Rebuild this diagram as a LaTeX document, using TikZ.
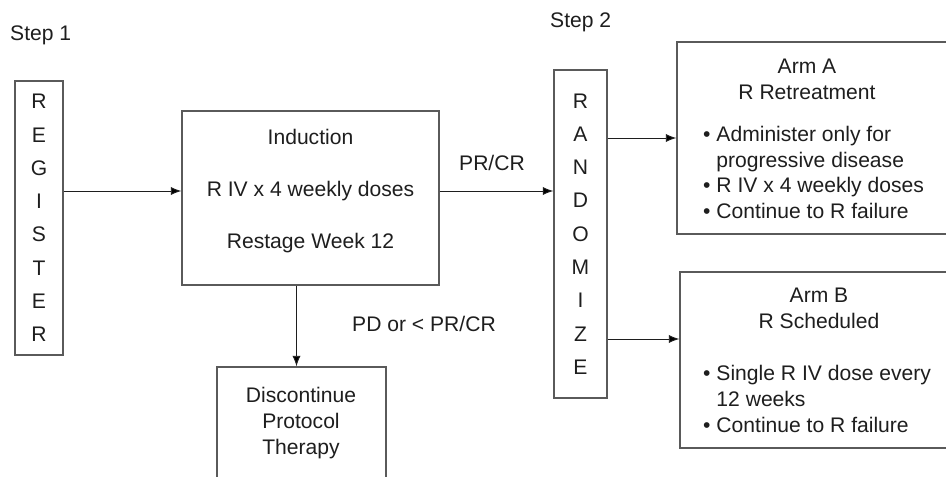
\documentclass[tikz,border=0pt]{standalone}
\usepackage{fontspec}
\setmainfont{Liberation Sans}
\usetikzlibrary{arrows.meta}
\definecolor{boxgray}{HTML}{5A5A5A}
\definecolor{txtgray}{HTML}{1E1E1E}
\tikzset{
  box/.style={draw=boxgray, line width=1.1pt, inner sep=0pt},
  lbl/.style={text=txtgray, align=center, inner sep=0pt, font=\fontsize{18}{22}\selectfont},
  letters/.style={box, text=txtgray, align=center, font=\fontsize{18}{28.4}\selectfont},
  arr/.style={draw=txtgray, line width=0.8pt},
}

\begin{document}
\begin{tikzpicture}[x=0.03cm, y=-0.03cm, >={Latex[length=9pt,width=7pt]}]
\useasboundingbox (0,0) rectangle (946,477);
\clip (0,0) rectangle (946,477);

\node[lbl, anchor=west] (step1) at (10,35) {Step 1};
\node[lbl, anchor=west] (step2) at (550,22) {Step 2};

\node[letters, minimum width=1.44cm, minimum height=8.22cm] (reg) at (39,218) {R\\E\\G\\I\\S\\T\\E\\R};

\node[box, minimum width=7.71cm, minimum height=5.22cm] (ind) at (310.5,198) {};
\node[lbl] (indtxt) at (310.5,191) {Induction\\[22pt]R IV x 4 weekly doses\\[22pt]Restage Week 12};

\node[box, minimum width=5.07cm, minimum height=4.59cm] (disc) at (301.5,443.5) {};
\node[lbl] (disctxt) at (301,423) {Discontinue\\Protocol\\Therapy};

\node[letters, minimum width=1.59cm, minimum height=9.84cm] (rand) at (580.5,234) {R\\A\\N\\D\\O\\M\\I\\Z\\E};

\node[box, minimum width=8.49cm, minimum height=5.76cm] (armA) at (818.5,138) {};
\node[lbl] (armAhead) at (807,79) {Arm A\\R Retreatment};
\node[lbl, align=left, anchor=west] (armAlist) at (703,172.5) {\textbullet\ Administer only for\\\phantom{\textbullet\ }progressive disease\\\textbullet\ R IV x 4 weekly doses\\\textbullet\ Continue to R failure};

\node[box, minimum width=8.4cm, minimum height=5.28cm] (armB) at (820,360) {};
\node[lbl] (armBhead) at (819,308) {Arm B\\R Scheduled};
\node[lbl, align=left, anchor=west] (armBlist) at (703,399) {\textbullet\ Single R IV dose every\\\phantom{\textbullet\ }12 weeks\\\textbullet\ Continue to R failure};

\node[lbl] (prcr) at (492,163) {PR/CR};
\node[lbl, anchor=west] (pd) at (352,324) {PD or < PR/CR};

\coordinate (dtop) at ([xshift=-0.15cm]disc.north);
\coordinate (bin) at ([yshift=0.63cm]armB.west);

\path[arr]
(reg.east |- indtxt) edge[->] (ind.west |- indtxt)
(ind.east |- indtxt) edge[->] (rand.west |- indtxt)
(ind.south -| dtop) edge[->] (dtop)
(rand.east |- armA.west) edge[->] (armA.west)
(rand.east |- bin) edge[->] (bin)
;
\end{tikzpicture}
\end{document}
